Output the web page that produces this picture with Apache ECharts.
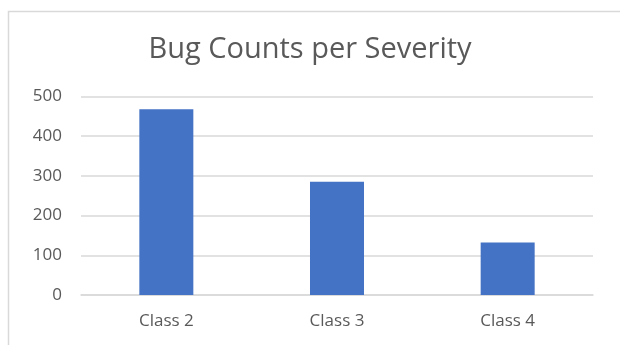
<!DOCTYPE html>
<html>
<head>
<meta charset="utf-8">
<style>
  html, body { margin: 0; padding: 0; background: #ffffff; }
  #chart { width: 620px; height: 345px; }
</style>
<script src="https://cdn.jsdelivr.net/npm/echarts@6/dist/echarts.min.js"></script>
</head>
<body>
<div id="chart"></div>
<script>
// Bug counts grouped by severity class
const categories = ['Class 2', 'Class 3', 'Class 4'];
const bugCounts = [468, 285, 132];
const yTicks = { min: 0, max: 500, step: 100 };

const chart = echarts.init(document.getElementById('chart'), null, { renderer: 'canvas' });
const textColor = '#595959';
const lineColor = '#d9d9d9';
const fontFamily = '"Open Sans", Lato, sans-serif';

chart.setOption({
  animation: false,
  backgroundColor: '#ffffff',
  title: {
    text: 'Bug Counts per Severity',
    left: 'center',
    top: 30,
    textStyle: { fontFamily: fontFamily, fontSize: 29, fontWeight: 'normal', color: textColor }
  },
  graphic: [{
    type: 'rect',
    shape: { x: 8.5, y: 11.5, width: 700, height: 400 },
    style: { fill: 'none', stroke: lineColor, lineWidth: 1.5 },
    silent: true
  }],
  grid: { left: 81, right: 27, top: 96.5, bottom: 50, containLabel: false },
  xAxis: {
    type: 'category',
    data: categories,
    axisLine: { show: true, lineStyle: { color: lineColor, width: 1.5 } },
    axisTick: { show: false },
    axisLabel: { color: textColor, fontFamily: fontFamily, fontSize: 17, margin: 18 }
  },
  yAxis: {
    type: 'value',
    min: yTicks.min,
    max: yTicks.max,
    interval: yTicks.step,
    axisLine: { show: false },
    axisTick: { show: false },
    splitLine: { lineStyle: { color: lineColor, width: 1.5 } },
    axisLabel: { color: textColor, fontFamily: fontFamily, fontSize: 17, margin: 19 }
  },
  series: [{
    type: 'bar',
    data: bugCounts,
    barWidth: 54,
    itemStyle: { color: '#4472C4' }
  }]
});
</script>
</body>
</html>
